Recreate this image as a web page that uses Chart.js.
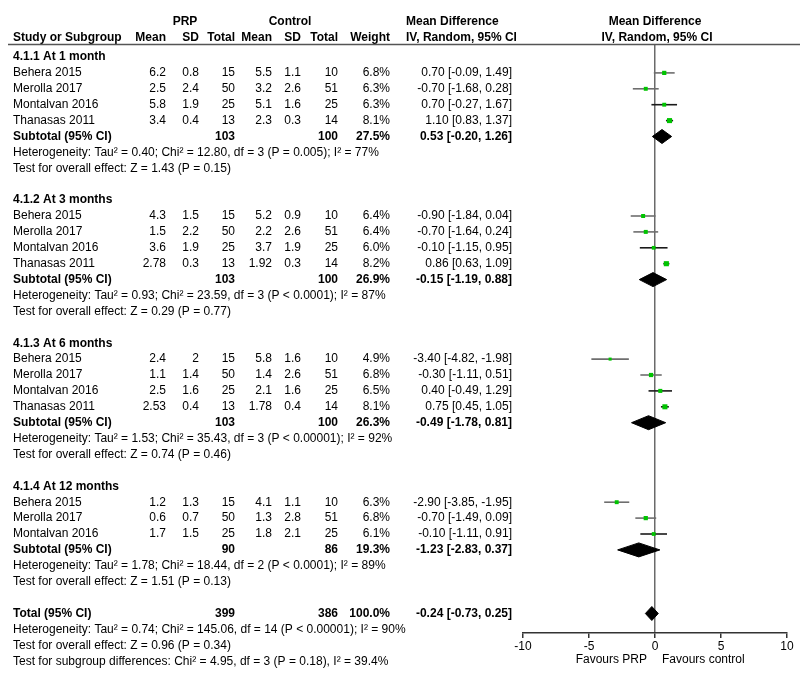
<!DOCTYPE html>
<html>
<head>
<meta charset="utf-8">
<script src="https://cdn.jsdelivr.net/npm/chart.js@4.4.0/dist/chart.umd.min.js"></script>
<style>
  html, body { margin: 0; padding: 0; background: #fff; }
  #wrap { position: relative; width: 800px; height: 686px; }
</style>
</head>
<body>
<div id="wrap"><canvas id="forest"></canvas></div>
<script>
// ---- data ----
const groupTitles = ["4.1.1 At 1 month", "4.1.2 At 3 months", "4.1.3 At 6 months", "4.1.4 At 12 months"];
const studyGroup = [0, 0, 0, 0, 1, 1, 1, 1, 2, 2, 2, 2, 3, 3, 3];
const studyNames = [
  "Behera 2015", "Merolla 2017", "Montalvan 2016", "Thanasas 2011",
  "Behera 2015", "Merolla 2017", "Montalvan 2016", "Thanasas 2011",
  "Behera 2015", "Merolla 2017", "Montalvan 2016", "Thanasas 2011",
  "Behera 2015", "Merolla 2017", "Montalvan 2016"
];
const prpMean = [6.2, 2.5, 5.8, 3.4, 4.3, 1.5, 3.6, 2.78, 2.4, 1.1, 2.5, 2.53, 1.2, 0.6, 1.7];
const prpSd = [0.8, 2.4, 1.9, 0.4, 1.5, 2.2, 1.9, 0.3, 2, 1.4, 1.6, 0.4, 1.3, 0.7, 1.5];
const prpTotal = [15, 50, 25, 13, 15, 50, 25, 13, 15, 50, 25, 13, 15, 50, 25];
const ctlMean = [5.5, 3.2, 5.1, 2.3, 5.2, 2.2, 3.7, 1.92, 5.8, 1.4, 2.1, 1.78, 4.1, 1.3, 1.8];
const ctlSd = [1.1, 2.6, 1.6, 0.3, 0.9, 2.6, 1.9, 0.3, 1.6, 2.6, 1.6, 0.4, 1.1, 2.8, 2.1];
const ctlTotal = [10, 51, 25, 14, 10, 51, 25, 14, 10, 51, 25, 14, 10, 51, 25];
const weight = [6.8, 6.3, 6.3, 8.1, 6.4, 6.4, 6.0, 8.2, 4.9, 6.8, 6.5, 8.1, 6.3, 6.8, 6.1];
const meanDiff = [0.70, -0.70, 0.70, 1.10, -0.90, -0.70, -0.10, 0.86, -3.40, -0.30, 0.40, 0.75, -2.90, -0.70, -0.10];
const ciLow = [-0.09, -1.68, -0.27, 0.83, -1.84, -1.64, -1.15, 0.63, -4.82, -1.11, -0.49, 0.45, -3.85, -1.49, -1.11];
const ciHigh = [1.49, 0.28, 1.67, 1.37, 0.04, 0.24, 0.95, 1.09, -1.98, 0.51, 1.29, 1.05, -1.95, 0.09, 0.91];

const subPrpTotal = [103, 103, 103, 90];
const subCtlTotal = [100, 100, 100, 86];
const subWeight = [27.5, 26.9, 26.3, 19.3];
const subMeanDiff = [0.53, -0.15, -0.49, -1.23];
const subLow = [-0.20, -1.19, -1.78, -2.83];
const subHigh = [1.26, 0.88, 0.81, 0.37];
const subHetero = [
  "Heterogeneity: Tau² = 0.40; Chi² = 12.80, df = 3 (P = 0.005); I² = 77%",
  "Heterogeneity: Tau² = 0.93; Chi² = 23.59, df = 3 (P < 0.0001); I² = 87%",
  "Heterogeneity: Tau² = 1.53; Chi² = 35.43, df = 3 (P < 0.00001); I² = 92%",
  "Heterogeneity: Tau² = 1.78; Chi² = 18.44, df = 2 (P < 0.0001); I² = 89%"
];
const subEffect = [
  "Test for overall effect: Z = 1.43 (P = 0.15)",
  "Test for overall effect: Z = 0.29 (P = 0.77)",
  "Test for overall effect: Z = 0.74 (P = 0.46)",
  "Test for overall effect: Z = 1.51 (P = 0.13)"
];

const totalPrp = 399;
const totalCtl = 386;
const totalWeight = 100.0;
const totalMeanDiff = -0.24;
const totalLow = -0.73;
const totalHigh = 0.25;
const totalNotes = [
  "Heterogeneity: Tau² = 0.74; Chi² = 145.06, df = 14 (P < 0.00001); I² = 90%",
  "Test for overall effect: Z = 0.96 (P = 0.34)",
  "Test for subgroup differences: Chi² = 4.95, df = 3 (P = 0.18), I² = 39.4%"
];

const xMin = -10;
const xMax = 10;
const xStep = 5;

// ---- layout ----
const W = 800, H = 686;
const rowTop = 57, rowH = 15.9;
const areaTop = 44, areaBottom = 633, areaLeft = 523, areaRight = 787;
const FONT = '"Liberation Sans", Arial, sans-serif';
const diamondHalf = 0.44;
const colX = { name: 13, pm: 166, psd: 199, pn: 235, cm: 272, csd: 301, cn: 338, w: 390, ci: 512 };

// build table rows
const rows = [];
let r = 0;
groupTitles.forEach((title, g) => {
  rows.push({ kind: "group", row: r++, text: title });
  studyGroup.forEach((sg, i) => {
    if (sg === g) rows.push({ kind: "study", row: r++, i, pos: rows.filter(x => x.kind === "study" && studyGroup[x.i] === g).length });
  });
  rows.push({ kind: "sub", row: r++, g });
  rows.push({ kind: "note", row: r++, text: subHetero[g] });
  rows.push({ kind: "note", row: r++, text: subEffect[g] });
  r++;
});
rows.push({ kind: "total", row: r++ });
totalNotes.forEach(t => rows.push({ kind: "note", row: r++, text: t }));

const studyRows = rows.filter(x => x.kind === "study");
const subRows = rows.filter(x => x.kind === "sub");
const totalRow = rows.find(x => x.kind === "total").row;

const fmt2 = v => v.toFixed(2);
const ciText = (m, lo, hi) => `${fmt2(m)} [${fmt2(lo)}, ${fmt2(hi)}]`;

// ---- datasets ----
const datasets = [];
datasets.push({
  label: "studies",
  type: "scatter",
  order: 0,
  data: studyRows.map(s => ({ x: meanDiff[s.i], y: s.row })),
  pointStyle: "rect",
  pointRadius: studyRows.map(s => weight[s.i] * 0.44),
  backgroundColor: "#00c400",
  borderWidth: 0,
});
studyRows.forEach(s => {
  datasets.push({
    type: "scatter",
    order: 2,
    showLine: true,
    data: [{ x: ciLow[s.i], y: s.row }, { x: ciHigh[s.i], y: s.row }],
    borderColor: s.pos < 2 ? "#6e6e6e" : "#1a1a1a",
    borderWidth: 1.6,
    pointRadius: 0,
  });
});
function diamond(row, m, lo, hi) {
  return {
    type: "scatter",
    order: 1,
    showLine: true,
    fill: "shape",
    data: [
      { x: lo, y: row }, { x: m, y: row - diamondHalf }, { x: hi, y: row },
      { x: m, y: row + diamondHalf }, { x: lo, y: row }
    ],
    borderColor: "#000",
    backgroundColor: "#000",
    borderWidth: 1,
    pointRadius: 0,
    tension: 0,
  };
}
subRows.forEach(s => datasets.push(diamond(s.row, subMeanDiff[s.g], subLow[s.g], subHigh[s.g])));
datasets.push(diamond(totalRow, totalMeanDiff, totalLow, totalHigh));

// ---- table text plugin ----
const tablePlugin = {
  id: "tableText",
  afterDraw(chart) {
    const ctx = chart.ctx;
    const y = chart.scales.y;
    const reg = `12px ${FONT}`, bold = `bold 12px ${FONT}`;
    const txt = (s, x, yy, align, f) => {
      ctx.font = f || reg;
      ctx.textAlign = align || "left";
      ctx.fillText(String(s), x, yy);
    };
    ctx.save();
    ctx.fillStyle = "#000";
    ctx.textBaseline = "middle";

    // header
    txt("PRP", 185, 22, "center", bold);
    txt("Control", 290, 22, "center", bold);
    txt("Mean Difference", 406, 22, "left", bold);
    txt("IV, Random, 95% CI", 406, 38, "left", bold);
    txt("Mean Difference", 655, 22, "center", bold);
    txt("IV, Random, 95% CI", 657, 38, "center", bold);
    txt("Study or Subgroup", colX.name, 38, "left", bold);
    [["Mean", colX.pm], ["SD", colX.psd], ["Total", colX.pn], ["Mean", colX.cm], ["SD", colX.csd], ["Total", colX.cn], ["Weight", colX.w]]
      .forEach(([t, x]) => txt(t, x, 38, "right", bold));
    ctx.strokeStyle = "#555";
    ctx.lineWidth = 1.5;
    ctx.beginPath();
    ctx.moveTo(8, 44.5);
    ctx.lineTo(W, 44.5);
    ctx.stroke();

    rows.forEach(rw => {
      const py = y.getPixelForValue(rw.row);
      if (rw.kind === "group") {
        txt(rw.text, colX.name, py, "left", bold);
      } else if (rw.kind === "note") {
        txt(rw.text, colX.name, py, "left");
      } else if (rw.kind === "study") {
        const i = rw.i;
        txt(studyNames[i], colX.name, py);
        txt(prpMean[i], colX.pm, py, "right");
        txt(prpSd[i], colX.psd, py, "right");
        txt(prpTotal[i], colX.pn, py, "right");
        txt(ctlMean[i], colX.cm, py, "right");
        txt(ctlSd[i], colX.csd, py, "right");
        txt(ctlTotal[i], colX.cn, py, "right");
        txt(weight[i].toFixed(1) + "%", colX.w, py, "right");
        txt(ciText(meanDiff[i], ciLow[i], ciHigh[i]), colX.ci, py, "right");
      } else if (rw.kind === "sub") {
        const g = rw.g;
        txt("Subtotal (95% CI)", colX.name, py, "left", bold);
        txt(subPrpTotal[g], colX.pn, py, "right", bold);
        txt(subCtlTotal[g], colX.cn, py, "right", bold);
        txt(subWeight[g].toFixed(1) + "%", colX.w, py, "right", bold);
        txt(ciText(subMeanDiff[g], subLow[g], subHigh[g]), colX.ci, py, "right", bold);
      } else if (rw.kind === "total") {
        txt("Total (95% CI)", colX.name, py, "left", bold);
        txt(totalPrp, colX.pn, py, "right", bold);
        txt(totalCtl, colX.cn, py, "right", bold);
        txt(totalWeight.toFixed(1) + "%", colX.w, py, "right", bold);
        txt(ciText(totalMeanDiff, totalLow, totalHigh), colX.ci, py, "right", bold);
      }
    });

    // axis captions
    txt("Favours PRP", 647, 660, "right");
    txt("Favours control", 662, 660, "left");
    ctx.restore();
  }
};

const yMin = (areaTop - rowTop) / rowH;
const yMax = (areaBottom - rowTop) / rowH;

new Chart(document.getElementById("forest"), {
  type: "scatter",
  data: { datasets },
  options: {
    responsive: true,
    maintainAspectRatio: false,
    animation: false,
    layout: { padding: { left: areaLeft, right: W - areaRight, top: areaTop, bottom: 0 } },
    plugins: { legend: { display: false }, tooltip: { enabled: false } },
    scales: {
      x: {
        type: "linear",
        min: xMin,
        max: xMax,
        afterFit: s => { s.height = H - areaBottom; },
        ticks: { stepSize: xStep, color: "#000", font: { family: FONT, size: 12 }, padding: 1, maxRotation: 0 },
        grid: {
          color: c => (c.tick && c.tick.value === 0 ? "#6a6a6a" : "rgba(0,0,0,0)"),
          lineWidth: 1.5,
          tickColor: "#333",
          tickLength: 5,
        },
        border: { display: true, color: "#333", width: 1.5 },
      },
      y: {
        type: "linear",
        display: false,
        reverse: true,
        min: yMin,
        max: yMax,
      },
    },
  },
  plugins: [tablePlugin],
});
</script>
</body>
</html>
